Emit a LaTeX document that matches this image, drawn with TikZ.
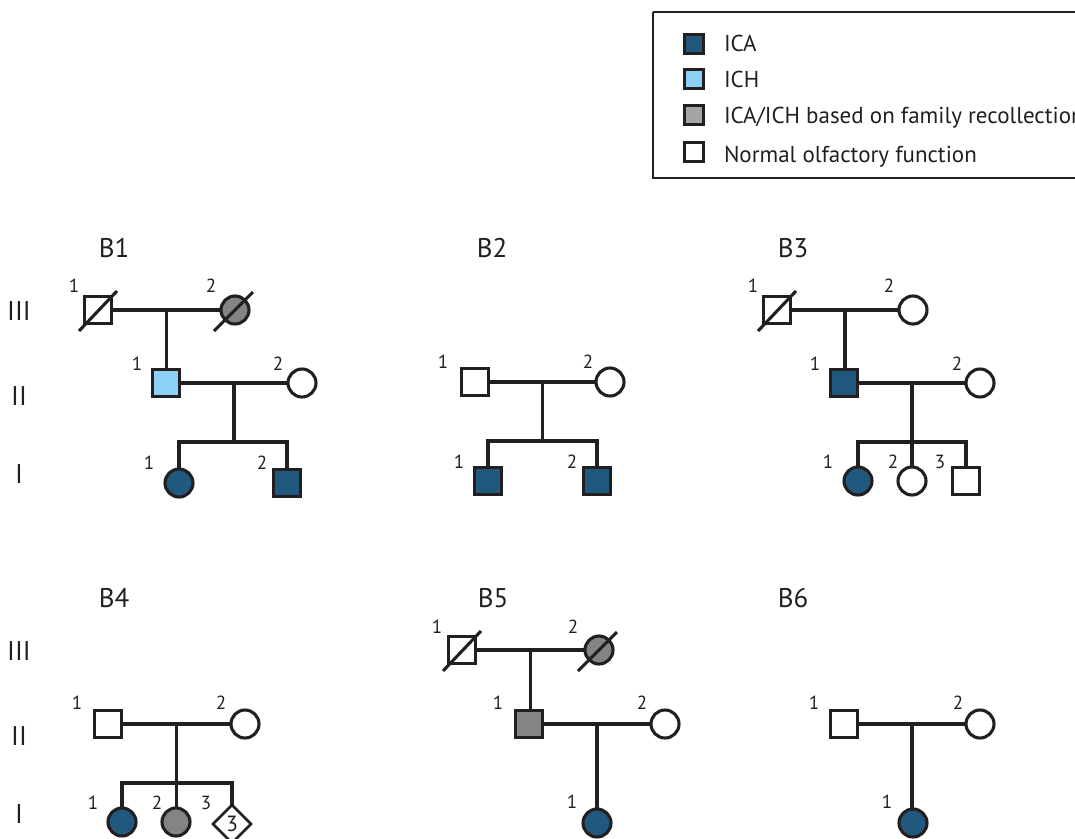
\documentclass[tikz,border=0pt]{standalone}
\usepackage{fontspec}
\setmainfont{PT Sans}
\usetikzlibrary{shapes.geometric,calc}

\definecolor{ink}{RGB}{35,31,32}
\definecolor{icablue}{RGB}{33,88,126}
\definecolor{ichblue}{RGB}{140,208,245}
\definecolor{recgrey}{RGB}{132,132,132}
\definecolor{keygrey}{RGB}{165,165,167}

\begin{document}
\begin{tikzpicture}[x=1pt,y=-1pt,
  every node/.style={inner sep=0pt, outer sep=0pt, text=ink},
  ln/.style={line width=3.1pt, draw=ink},
  sq/.style={rectangle, draw=ink, line width=3.1pt, minimum size=27pt, fill=white},
  ci/.style={circle, draw=ink, line width=3.1pt, minimum size=28pt, fill=white},
  dm/.style={diamond, aspect=1, draw=ink, line width=2.8pt, minimum size=38pt, fill=white,
             font=\fontsize{22}{24}\selectfont},
  ica/.style={fill=icablue},
  ich/.style={fill=ichblue},
  rec/.style={fill=recgrey},
  num/.style={font=\fontsize{19}{21}\selectfont},
  ttl/.style={font=\fontsize{27}{30}\selectfont, anchor=base},
  gen/.style={font=\fontsize{27}{30}\selectfont, anchor=base},
  keybox/.style={rectangle, draw=ink, line width=3pt, minimum size=19pt},
  keytxt/.style={font=\fontsize{23}{26}\selectfont, anchor=base west},
]
\useasboundingbox (0,0) rectangle (1075,838);

% ---------- key ----------
\draw[ink, line width=1.6pt] (653,12) -- (1090,12) (653,12) -- (653,178) -- (1090,178);
\node[keybox, fill=icablue] (k1) at (694,44) {};
\node[keybox, fill=ichblue] (k2) at (694,79) {};
\node[keybox, fill=keygrey] (k3) at (694,115) {};
\node[keybox, fill=white]   (k4) at (694,152) {};
\node[keytxt] (t1) at (724,51) {ICA};
\node[keytxt] (t2) at (724,87) {ICH};
\node[keytxt] (t3) at (724,123) {ICA/ICH based on family recollection};
\node[keytxt] (t4) at (724,162) {Normal olfactory function};

% ---------- generation labels ----------
\node[gen] (g3a) at (19,320) {III};
\node[gen] (g2a) at (19,405) {II};
\node[gen] (g1a) at (19,483) {I};
\node[gen] (g3b) at (19,660) {III};
\node[gen] (g2b) at (19,745) {II};
\node[gen] (g1b) at (19,823) {I};

% ---------- titles ----------
\node[ttl] (tB1) at (114,257) {B1};
\node[ttl] (tB2) at (492,257) {B2};
\node[ttl] (tB3) at (793,257) {B3};
\node[ttl] (tB4) at (114,607) {B4};
\node[ttl] (tB5) at (493,607) {B5};
\node[ttl] (tB6) at (793,607) {B6};

% ---------- B1 ----------
\node[sq] (b1a) at (98,310) {};
\node[ci, rec] (b1b) at (235,310) {};
\node[sq, ich] (b1c) at (166,383) {};
\node[ci] (b1d) at (302,383) {};
\node[ci, ica] (b1e) at (179,483) {};
\node[sq, ica] (b1f) at (287,483) {};
\draw[ln] (b1a) -- (b1b);
\coordinate (b1m1) at ($(b1a)!0.5!(b1b)$);
\draw[ln] (b1m1) -- (b1m1 |- b1c.north);
\draw[ln] (b1c) -- (b1d);
\coordinate (b1m2) at ($(b1c)!0.5!(b1d)$);
\coordinate (b1s) at (b1m2 |- 0,442);
\draw[ln] (b1m2) -- (b1s);
\draw[ln] (b1e.north) |- (b1s) -| (b1f.north);
\draw[ln] ($(b1a)+(-19,21)$) -- ($(b1a)+(19,-19)$);
\draw[ln] ($(b1b)+(-21,21)$) -- ($(b1b)+(18,-18)$);
\node[num] (l1a) at (74,286) {1};
\node[num] (l1b) at (211,286) {2};
\node[num] (l1c) at (137,364) {1};
\node[num] (l1d) at (278,364) {2};
\node[num] (l1e) at (149,463) {1};
\node[num] (l1f) at (262,463) {2};

% ---------- B2 ----------
\node[sq] (b2a) at (475,382) {};
\node[ci] (b2b) at (610,382) {};
\node[sq, ica] (b2c) at (488,481) {};
\node[sq, ica] (b2d) at (597,481) {};
\draw[ln] (b2a) -- (b2b);
\coordinate (b2m) at ($(b2a)!0.5!(b2b)$);
\coordinate (b2s) at (b2m |- 0,441);
\draw[ln] (b2m) -- (b2s);
\draw[ln] (b2c.north) |- (b2s) -| (b2d.north);
\node[num] (l2a) at (443,362) {1};
\node[num] (l2b) at (588,362) {2};
\node[num] (l2c) at (459,462) {1};
\node[num] (l2d) at (572,462) {2};

% ---------- B3 ----------
\node[sq] (b3a) at (777,310) {};
\node[ci] (b3b) at (913,310) {};
\node[sq, ica] (b3c) at (844,383) {};
\node[ci] (b3d) at (980,383) {};
\node[ci, ica] (b3e) at (858,481) {};
\node[ci] (b3f) at (912,481) {};
\node[sq] (b3g) at (966,481) {};
\draw[ln] (b3a) -- (b3b);
\coordinate (b3m1) at ($(b3a)!0.5!(b3b)$);
\draw[ln] (b3m1) -- (b3m1 |- b3c.north);
\draw[ln] (b3c) -- (b3d);
\coordinate (b3m2) at ($(b3c)!0.5!(b3d)$);
\draw[ln] (b3m2) -- (b3m2 |- b3f.north);
\draw[ln] (b3e.north) |- (b3f |- 0,442) -| (b3g.north);
\draw[ln] ($(b3a)+(-19,21)$) -- ($(b3a)+(19,-19)$);
\node[num] (l3a) at (753,286) {1};
\node[num] (l3b) at (889,286) {2};
\node[num] (l3c) at (815,364) {1};
\node[num] (l3d) at (957,364) {2};
\node[num] (l3e) at (828,462) {1};
\node[num] (l3f) at (893,462) {2};
\node[num] (l3g) at (940,462) {3};

% ---------- B4 ----------
\node[sq] (b4a) at (108,724) {};
\node[ci] (b4b) at (245,724) {};
\node[ci, ica] (b4c) at (122,822) {};
\node[ci, rec] (b4d) at (176,822) {};
\node[dm] (b4e) at (232,824) {3};
\draw[ln] (b4a) -- (b4b);
\coordinate (b4m) at ($(b4a)!0.5!(b4b)$);
\draw[ln] (b4m) -- (b4m |- b4d.north);
\draw[ln] (b4c.north) |- (b4d |- 0,783) -| (b4e.north);
\node[num] (l4a) at (77,703) {1};
\node[num] (l4b) at (221,703) {2};
\node[num] (l4c) at (93,803) {1};
\node[num] (l4d) at (157,803) {2};
\node[num] (l4e) at (206,803) {3};

% ---------- B5 ----------
\node[sq] (b5a) at (462,650) {};
\node[ci, rec] (b5b) at (599,650) {};
\node[sq, rec] (b5c) at (529,724) {};
\node[ci] (b5d) at (665,724) {};
\node[ci, ica] (b5e) at (597,823) {};
\draw[ln] (b5a) -- (b5b);
\coordinate (b5m1) at ($(b5a)!0.5!(b5b)$);
\draw[ln] (b5m1) -- (b5m1 |- b5c.north);
\draw[ln] (b5c) -- (b5d);
\coordinate (b5m2) at ($(b5c)!0.5!(b5d)$);
\draw[ln] (b5m2) -- (b5m2 |- b5e.north);
\draw[ln] ($(b5a)+(-19,21)$) -- ($(b5a)+(19,-19)$);
\draw[ln] ($(b5b)+(-21,21)$) -- ($(b5b)+(18,-18)$);
\node[num] (l5a) at (437,627) {1};
\node[num] (l5b) at (573,627) {2};
\node[num] (l5c) at (498,703) {1};
\node[num] (l5d) at (642,703) {2};
\node[num] (l5e) at (572,802) {1};

% ---------- B6 ----------
\node[sq] (b6a) at (844,724) {};
\node[ci] (b6b) at (980,724) {};
\node[ci, ica] (b6c) at (913,823) {};
\draw[ln] (b6a) -- (b6b);
\coordinate (b6m) at ($(b6a)!0.5!(b6b)$);
\draw[ln] (b6m) -- (b6m |- b6c.north);
\node[num] (l6a) at (814,703) {1};
\node[num] (l6b) at (958,703) {2};
\node[num] (l6c) at (887,802) {1};
\end{tikzpicture}
\end{document}
